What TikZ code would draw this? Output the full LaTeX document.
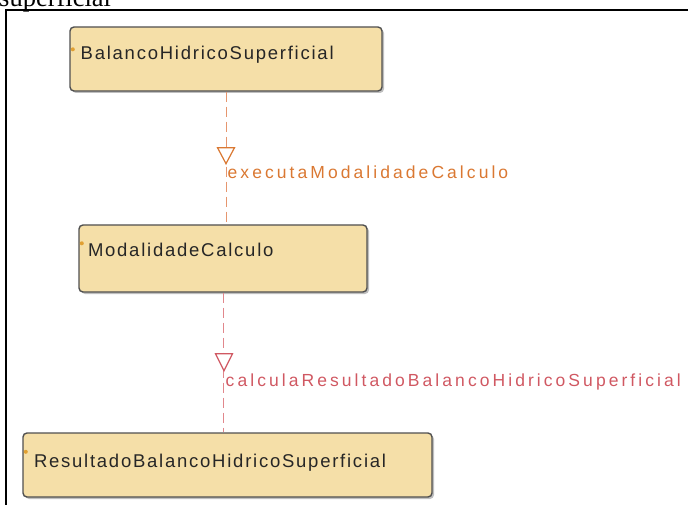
\documentclass[tikz,border=0pt]{standalone}
\usepackage{fontspec}
\usetikzlibrary{calc}
\newfontfamily\boxfont[LetterSpace=9.5]{Liberation Sans}
\newfontfamily\lblfont[LetterSpace=17.5]{Liberation Sans}
\newfontfamily\topserif{Liberation Serif}
\definecolor{boxfill}{RGB}{245,223,168}
\definecolor{boxline}{RGB}{80,80,80}
\definecolor{dotc}{RGB}{225,160,50}
\definecolor{lineA}{RGB}{230,150,110}
\definecolor{textA}{RGB}{218,120,50}
\definecolor{lineB}{RGB}{225,135,140}
\definecolor{textB}{RGB}{208,88,98}
\tikzset{
  classbox/.style={draw=boxline, fill=boxfill, line width=1.4pt, rounded corners=4pt, inner sep=0pt},
  boxtext/.style={anchor=base west, inner sep=0pt, font=\boxfont\fontsize{18.5}{21}\selectfont, text=black!85},
  markdot/.style={circle, fill=dotc, inner sep=0pt, minimum size=4pt},
  depA/.style={draw=lineA, line width=1pt, dash pattern=on 10pt off 5pt},
  depB/.style={draw=lineB, line width=1pt, dash pattern=on 10pt off 5pt},
  triA/.style={draw=textA, line width=1.2pt, fill=white},
  triB/.style={draw=textB, line width=1.2pt, fill=white},
  lblA/.style={anchor=base west, inner sep=0pt, font=\lblfont\fontsize{17.5}{20}\selectfont, text=textA},
  lblB/.style={anchor=base west, inner sep=0pt, font=\lblfont\fontsize{17.5}{20}\selectfont, text=textB},
}
\begin{document}
\begin{tikzpicture}[x=1pt, y=-1pt]
\useasboundingbox (0,0) rectangle (688,505);
% top partial caption and frame
\begin{scope}
\clip (0,0) rectangle (688,505);
\node[anchor=base west, inner sep=0pt, font=\topserif\fontsize{26.5}{30}\selectfont] (cap) at (-1,6.3) {superficial};
\end{scope}
\draw[line width=2pt] (5.5,506) -- (5.5,10.5) -- (689,10.5);
% boxes (shadows)
\fill[black!25, rounded corners=4pt] (72,29) rectangle (384,93);
\fill[black!25, rounded corners=4pt] (81,227) rectangle (369,294);
\fill[black!25, rounded corners=4pt] (25,435) rectangle (434,499);
\node[classbox, minimum width=312pt, minimum height=64pt] (b1) at (226,59) {};
\node[classbox, minimum width=288pt, minimum height=67pt] (b2) at (223,258.5) {};
\node[classbox, minimum width=409pt, minimum height=64pt] (b3) at (227.5,465) {};
% texts
\node[boxtext] (t1) at ($(b1.north west)+(11.2,33.7)$) {BalancoHidricoSuperficial};
\node[boxtext] (t2) at ($(b2.north west)+(9.5,32.3)$) {ModalidadeCalculo};
\node[boxtext] (t3) at ($(b3.north west)+(11.5,35.3)$) {ResultadoBalancoHidricoSuperficial};
\node[markdot] (d1) at ($(b1.north west)+(3.5,23)$) {};
\node[markdot] (d2) at ($(b2.north west)+(3.5,19)$) {};
\node[markdot] (d3) at ($(b3.north west)+(3.5,19.5)$) {};
% connectors
\draw[depA] (b1.south) -- (b1.south |- b2.north);
\coordinate (tipA) at ($(b1.south)+(0,72)$);
\draw[triA] ($(tipA)+(-8.5,-16)$) -- (tipA) -- ($(tipA)+(8.5,-16)$) -- cycle;
\node[lblA] (la) at ($(tipA)+(1.5,15.3)$) {executaModalidadeCalculo};
\draw[depB] (b2.south) -- (b2.south |- b3.north);
\coordinate (tipB) at ($(b2.south)+(1,78)$);
\draw[triB] ($(tipB)+(-8.5,-17)$) -- (tipB) -- ($(tipB)+(8.5,-17)$) -- cycle;
\node[lblB] (lb) at ($(tipB)+(1.5,16)$) {calculaResultadoBalancoHidricoSuperficial};
\end{tikzpicture}
\end{document}
